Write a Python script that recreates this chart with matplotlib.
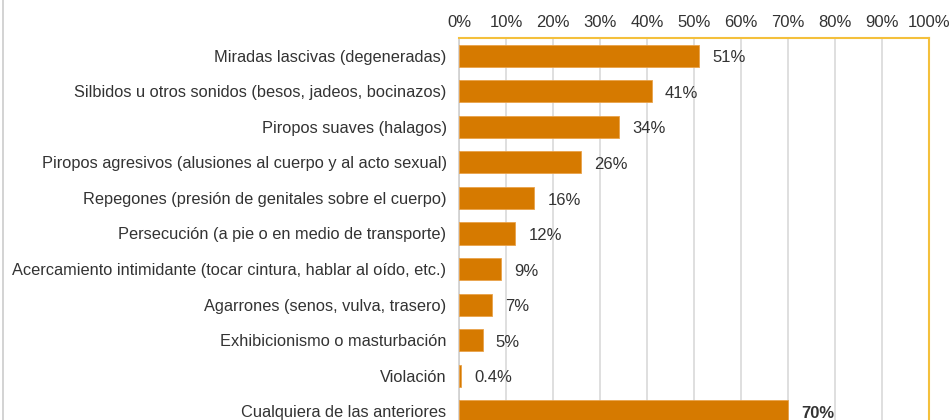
import matplotlib
matplotlib.use("Agg")
import matplotlib.pyplot as plt
from matplotlib.ticker import MultipleLocator, FuncFormatter

categories = [
    "Miradas lascivas (degeneradas)",
    "Silbidos u otros sonidos (besos, jadeos, bocinazos)",
    "Piropos suaves (halagos)",
    "Piropos agresivos (alusiones al cuerpo y al acto sexual)",
    "Repegones (presión de genitales sobre el cuerpo)",
    "Persecución (a pie o en medio de transporte)",
    "Acercamiento intimidante (tocar cintura, hablar al oído, etc.)",
    "Agarrones (senos, vulva, trasero)",
    "Exhibicionismo o masturbación",
    "Violación",
    "Cualquiera de las anteriores",
]
values = [51, 41, 34, 26, 16, 12, 9, 7, 5, 0.4, 70]
value_labels = ["51%", "41%", "34%", "26%", "16%", "12%", "9%", "7%", "5%", "0.4%", "70%"]

plt.rcParams['font.family'] = ['Liberation Sans', 'DejaVu Sans']
text_color = '#333333'

fig = plt.figure(figsize=(9.5, 4.2), dpi=100)
W, H = 950, 420
left, right, top, bottom = 459, 929, 38, 429
ax = fig.add_axes([left / W, (H - bottom) / H, (right - left) / W, (bottom - top) / H])

y = list(range(len(categories)))
ax.barh(y, values, height=0.62, color='#D67A00', edgecolor='#E9A24A', linewidth=0.6, zorder=3)

ax.set_xlim(0, 100)
ax.set_ylim(len(categories) - 0.5, -0.5)
ax.xaxis.set_major_locator(MultipleLocator(10))
ax.xaxis.set_major_formatter(FuncFormatter(lambda v, p: f"{int(v)}%"))
ax.xaxis.tick_top()
ax.tick_params(axis='x', length=0, pad=5.5, labelsize=12, colors=text_color)
ax.tick_params(axis='y', length=0, pad=9, labelsize=11.8, colors=text_color)
ax.set_yticks(y)
ax.set_yticklabels(categories)
ax.grid(axis='x', color='#D9D9D9', linewidth=1.2, zorder=0)
ax.set_axisbelow(True)

ax.spines['bottom'].set_visible(False)
ax.spines['left'].set_color('#D0D0D0')
ax.spines['left'].set_linewidth(1.2)
ax.spines['top'].set_color('#F4C03C')
ax.spines['right'].set_color('#F4C03C')
ax.spines['top'].set_linewidth(1.5)
ax.spines['right'].set_linewidth(1.5)

for i, (v, lab) in enumerate(zip(values, value_labels)):
    bold = (i == len(values) - 1)
    ax.annotate(lab, xy=(v, i), xytext=(9.5, -1.5), textcoords='offset points',
                va='center', ha='left', fontsize=12, color=text_color,
                fontweight='bold' if bold else 'normal')

# figure frame on left
fig.add_artist(plt.Line2D([2.5 / W, 2.5 / W], [0, 1], color='#CCCCCC', linewidth=1.2,
                          transform=fig.transFigure))

fig.savefig("out.png", dpi=100)
